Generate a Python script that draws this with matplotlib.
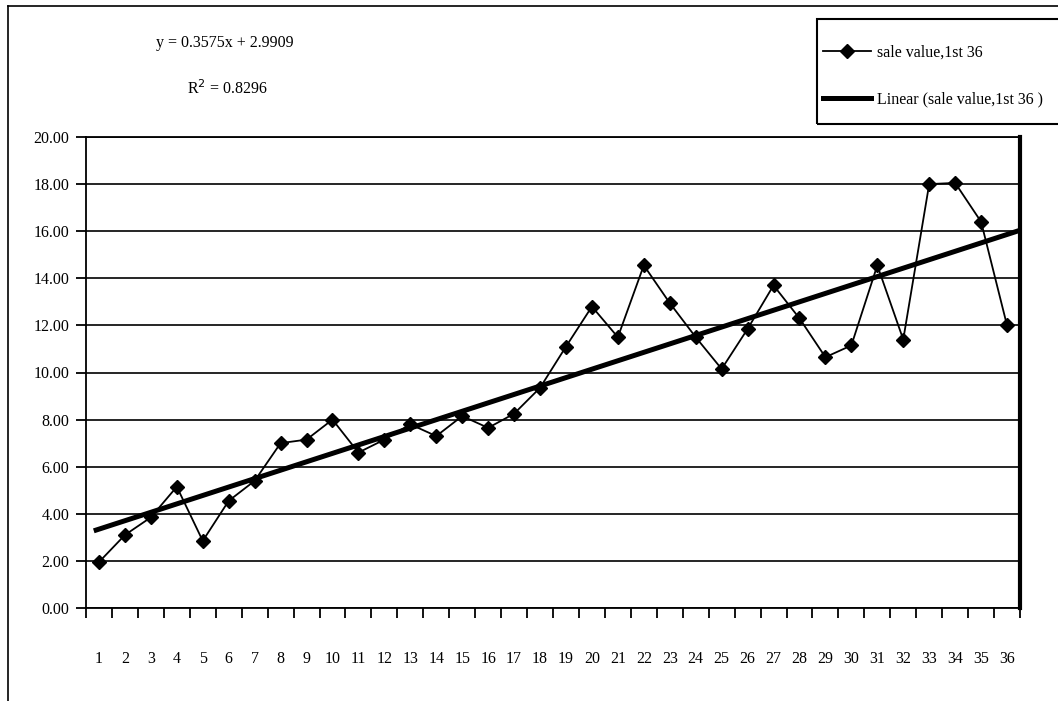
import matplotlib
matplotlib.use("Agg")
import matplotlib.pyplot as plt
from matplotlib.lines import Line2D
from matplotlib.patches import Rectangle
import numpy as np

periods = list(range(1, 37))
sale_value = [1.95, 3.10, 3.85, 5.15, 2.85, 4.55, 5.40, 7.00, 7.15, 8.00,
              6.60, 7.15, 7.80, 7.30, 8.15, 7.65, 8.25, 9.35, 11.10, 12.80,
              11.50, 14.55, 12.95, 11.50, 10.15, 11.85, 13.70, 12.30, 10.65, 11.15,
              14.55, 11.40, 18.00, 18.05, 16.40, 12.00]
trend_slope = 0.3575
trend_intercept = 2.9909
r_squared = 0.8296
y_ticks = [0, 2, 4, 6, 8, 10, 12, 14, 16, 18, 20]

plt.rcParams['font.family'] = ['Liberation Serif', 'DejaVu Serif']

W, H = 1058, 701
fig = plt.figure(figsize=(W / 100, H / 100), dpi=100)
ax = fig.add_axes([86 / W, 1 - 608 / H, (1020 - 86) / W, (608 - 137) / H])

# horizontal gridlines
for v in y_ticks:
    ax.axhline(v, color='black', lw=1.2, zorder=1)

# linear trend line
tx = np.array([0.8, 36.5])
ax.plot(tx, trend_slope * tx + trend_intercept, color='black', lw=3.6,
        solid_capstyle='butt', zorder=2)

# sale values
ax.plot(periods, sale_value, color='black', lw=1.3, marker='D', markersize=7,
        zorder=3)

ax.set_xlim(0.5, 36.5)
ax.set_ylim(0, 20)
ax.set_yticks(y_ticks)
ax.set_yticklabels([f"{v:.2f}" for v in y_ticks], fontsize=11.5)
ax.set_xticks(np.arange(0.5, 37, 1))
ax.set_xticklabels([])
ax.set_xticks(periods, minor=True)
ax.set_xticklabels([str(p) for p in periods], minor=True, fontsize=11.5)
ax.tick_params(axis='x', which='major', direction='out', length=7, width=1.3)
ax.tick_params(axis='x', which='minor', length=0, pad=31)
ax.tick_params(axis='y', direction='out', length=7, width=1.3, pad=5)

for side in ['left', 'bottom', 'top']:
    ax.spines[side].set_linewidth(1.3)
ax.spines['right'].set_linewidth(3)

# regression equation
fig.text(225 / W, 1 - 43 / H, "y = 0.3575x + 2.9909", ha='center', va='center',
         fontsize=11.5)
fig.text(227 / W, 1 - 89 / H, f"R$^2$ = {r_squared:.4f}", ha='center', va='center',
         fontsize=11.5)

# outer chart frame
fig.add_artist(Line2D([8 / W, 8 / W], [0, 1 - 6 / H], color='black', lw=1.2,
                      transform=fig.transFigure))
fig.add_artist(Line2D([8 / W, 1], [1 - 6 / H, 1 - 6 / H], color='black',
                      lw=1.2, transform=fig.transFigure))

# legend box
fig.add_artist(Rectangle((817 / W, 1 - 124 / H), (1065 - 817) / W, (124 - 19) / H,
                         fill=False, edgecolor='black', lw=1.5,
                         transform=fig.transFigure, clip_on=False))

handles = [
    Line2D([], [], color='black', lw=1.3, marker='D', markersize=7),
    Line2D([], [], color='black', lw=3.6),
]
fig.legend(handles, ["sale value,1st 36", "Linear (sale value,1st 36 )"],
           loc='upper left', bbox_to_anchor=(823 / W, 1 - 45 / H),
           fontsize=11.5, frameon=False, handlelength=3.0, labelspacing=1.93,
           borderpad=0, handletextpad=0.35, borderaxespad=0)

fig.savefig("out.png", dpi=100)
